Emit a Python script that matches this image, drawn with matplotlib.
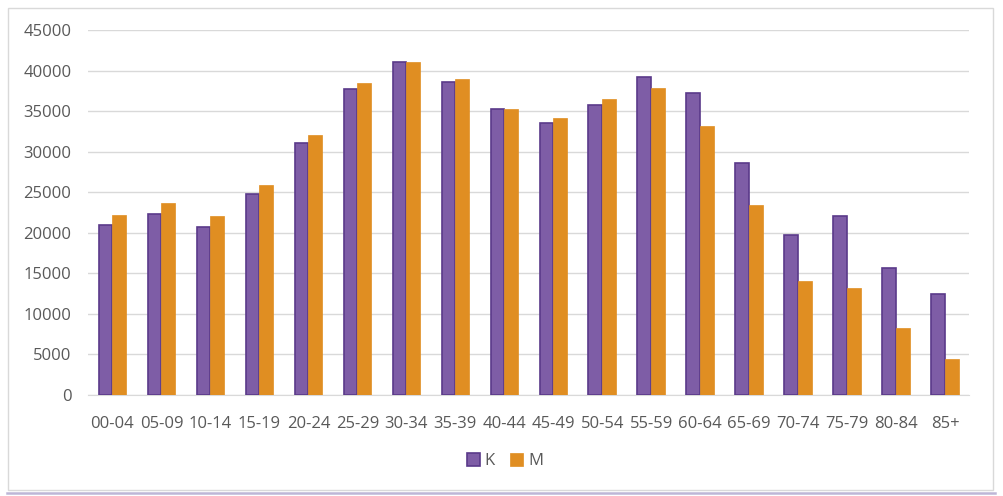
import matplotlib
matplotlib.use('Agg')
import matplotlib.pyplot as plt
import numpy as np

categories = ['00-04', '05-09', '10-14', '15-19', '20-24', '25-29', '30-34', '35-39', '40-44',
              '45-49', '50-54', '55-59', '60-64', '65-69', '70-74', '75-79', '80-84', '85+']
k_values = [21000, 22300, 20700, 24800, 31100, 37700, 41100, 38600, 35200,
            33500, 35700, 39200, 37200, 28600, 19700, 22100, 15700, 12500]
m_values = [22200, 23700, 22100, 25900, 32100, 38500, 41100, 39000, 35200,
            34100, 36500, 37800, 33200, 23400, 14100, 13200, 8200, 4500]
y_ticks = [0, 5000, 10000, 15000, 20000, 25000, 30000, 35000, 40000, 45000]

plt.rcParams['font.family'] = ['Open Sans', 'DejaVu Sans']

fig = plt.figure(figsize=(10.04, 4.96), dpi=100)

# chart border
fig.add_artist(plt.Rectangle((8 / 1004, 1 - 490 / 496), 985 / 1004, 482 / 496,
                             transform=fig.transFigure, fill=False,
                             edgecolor='#D9D9D9', linewidth=1))
fig.add_artist(plt.Line2D([7 / 1004, 995 / 1004], [1 - 493 / 496, 1 - 493 / 496],
                          transform=fig.transFigure, color='#BDB6D6', linewidth=1.8))

ax = fig.add_axes([88 / 1004, 101 / 496, 881.5 / 1004, 365 / 496])
x = np.arange(len(categories))
w = 0.28
ax.bar(x - w / 2, k_values, w, color='#7E5DA6', edgecolor='#5A3A8A', linewidth=1.2,
       label='K', zorder=3)
ax.bar(x + w / 2, m_values, w, color='#E08E22', edgecolor='#E08E22', linewidth=0.5,
       label='M', zorder=3)

ax.set_xlim(-0.5, len(categories) - 0.5)
ax.set_ylim(0, 45000)
ax.set_yticks(y_ticks)
ax.set_xticks(x)
ax.set_xticklabels(categories)
ax.grid(axis='y', color='#D9D9D9', linewidth=1, zorder=0)
ax.tick_params(axis='both', length=0, labelsize=12, colors='#595959')
ax.tick_params(axis='x', pad=15)
ax.tick_params(axis='y', pad=12)
for s in ['top', 'right', 'left']:
    ax.spines[s].set_visible(False)
ax.spines['bottom'].set_color('#D9D9D9')

leg = fig.legend(loc='center', bbox_to_anchor=(505 / 1004, 1 - 461 / 496), ncol=2,
                 frameon=False, fontsize=12, handlelength=0.8, handleheight=0.8,
                 handletextpad=0.3, columnspacing=0.9)
for t in leg.get_texts():
    t.set_color('#595959')

plt.savefig('out.png', dpi=100, facecolor='white')
plt.close()
